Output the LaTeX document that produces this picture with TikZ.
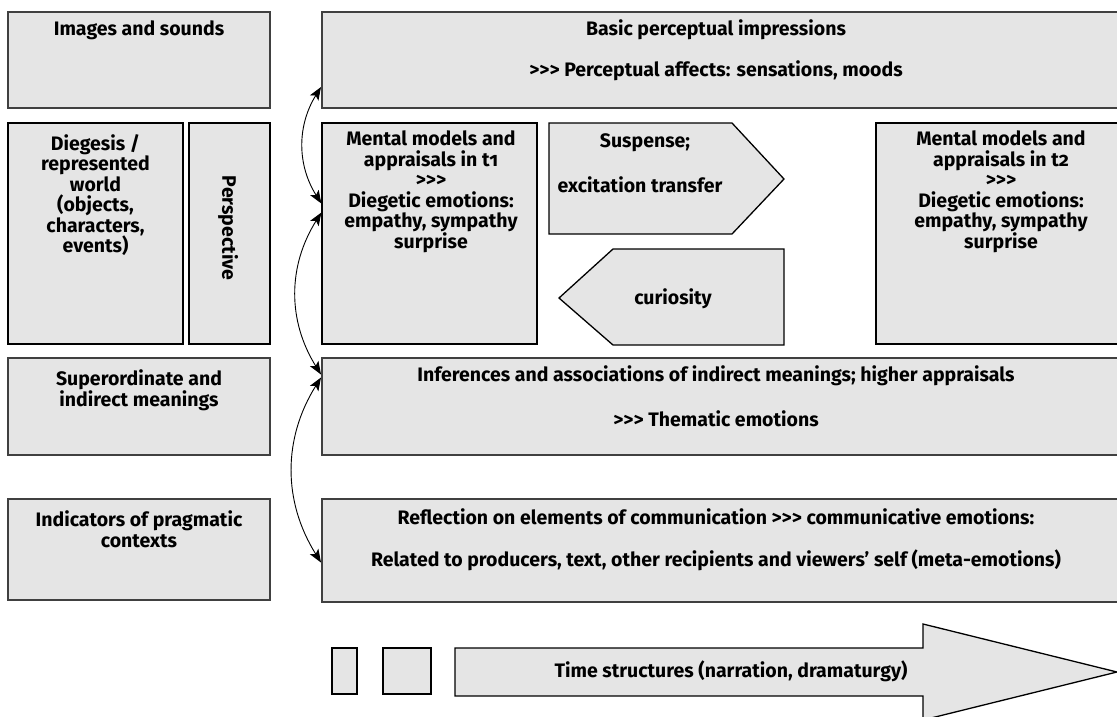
\documentclass[tikz,border=0pt]{standalone}
\usepackage{fontspec}
\setmainfont{Fira Sans}[Numbers=OldStyle]
\usepackage{tikz}
\usetikzlibrary{positioning,arrows.meta}

\newcommand{\trigt}{>\kern0pt>\kern0pt>}

\tikzset{
	box/.style={draw=black!75, line width=2pt, fill=black!10, inner sep=0pt},
	thinbox/.style={draw=black, line width=1.3pt, fill=black!10, inner sep=0pt},
	txt/.style={font=\bfseries\fontsize{19.5}{20.5}\selectfont, align=center, inner sep=0pt},
	link/.style={{Stealth[length=13pt,width=10pt,inset=3pt]}-{Stealth[length=13pt,width=10pt,inset=3pt]}, line width=0.9pt}
}

\begin{document}
\begin{tikzpicture}[x=1pt,y=-1pt]
	\useasboundingbox (0,0) rectangle (1117,716);
	% left column
	\node[box, minimum width=262, minimum height=96] (images) at (139,60) {};
	\node[thinbox, minimum width=175, minimum height=221] (diegesis) at (95.5,233.5) {};
	\node[thinbox, minimum width=81, minimum height=221] (persp) at (229.5,233.5) {};
	\node[box, minimum width=262, minimum height=97] (superord) at (139,406.5) {};
	\node[box, minimum width=262, minimum height=101] (pragm) at (139,549.5) {};
	% right column
	\node[box, minimum width=798, minimum height=96] (percept) at (721,60) {};
	\node[thinbox, minimum width=215, minimum height=221] (mentalA) at (429.5,233.5) {};
	\node[thinbox, minimum width=244, minimum height=221] (mentalB) at (998,233.5) {};
	\node[box, minimum width=798, minimum height=97] (infer) at (721,406.5) {};
	\node[box, minimum width=798, minimum height=103] (reflect) at (721,550.5) {};
	% pentagons
	\draw[thinbox] (549,123) -- (732,123) -- (784,179) -- (732,234) -- (549,234) -- cycle;
	\draw[thinbox] (784,249) -- (613,249) -- (559,298) -- (613,345) -- (784,345) -- cycle;
	% time row
	\draw[thinbox] (332,648) rectangle (357,694);
	\draw[thinbox] (383,648) rectangle (431,694);
	\draw[thinbox] (455,648) -- (923,648) -- (923,624) -- (1117,672) -- (923,720) -- (923,696) -- (455,696) -- cycle;

	% texts
	\node[txt] (imagestxt) at (139,30) {Images and sounds};
	\node[txt] (diegesistxt) at (95.5,195) {Diegesis /\\represented\\world\\(objects,\\characters,\\events)};
	\node[txt, rotate=-90] (persptxt) at (228,228) {Perspective};
	\node[txt] (superordtxt) at (139,390) {Superordinate and\\indirect meanings};
	\node[txt] (pragmtxt) at (139,529) {Indicators of pragmatic\\contexts};
	\node[txt] (percepttxt) at (716,30) {Basic perceptual impressions};
	\node[txt] (percepttxtb) at (716,71) {\trigt{} Perceptual affects: sensations, moods};
	\node[txt] (mentalAtxt) at (431,192) {Mental models and\\appraisals in t1\\\trigt\\Diegetic emotions:\\empathy, sympathy\\surprise};
	\node[txt] (suspensetxt) at (645,143) {Suspense;};
	\node[txt] (excitetxt) at (640,185) {excitation transfer};
	\node[txt] (curiositytxt) at (673,299) {curiosity};
	\node[txt] (mentalBtxt) at (1001,192) {Mental models and\\appraisals in t2\\\trigt\\Diegetic emotions:\\empathy, sympathy\\surprise};
	\node[txt] (infertxt) at (716,376) {Inferences and associations of indirect meanings; higher appraisals};
	\node[txt] (infertxtb) at (716,419) {\trigt{} Thematic emotions};
	\node[txt] (reflecttxt) at (716,517) {Reflection on elements of communication \trigt{} communicative emotions:};
	\node[txt] (reflecttxtb) at (716,560) {Related to producers, text, other recipients and viewers’ self (meta-emotions)};
	\node[txt] (timetxt) at (731,671) {Time structures (narration, dramaturgy)};

	% curved links
	\draw[link] ([yshift=-27pt]percept.west) to[bend right=32] ([yshift=30pt]mentalA.west);
	\draw[link] ([yshift=21pt]mentalA.west) to[bend right=32] ([yshift=32pt]infer.west);
	\draw[link] ([yshift=29pt]infer.west) to[bend right=32] ([yshift=-12pt]reflect.west);
\end{tikzpicture}
\end{document}
